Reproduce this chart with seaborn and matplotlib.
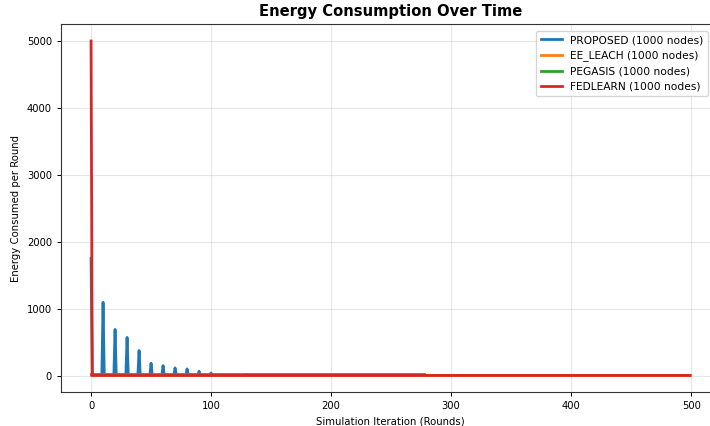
import numpy as np
import pandas as pd
import matplotlib
matplotlib.use('Agg')
import matplotlib.pyplot as plt
import seaborn as sns

# rounds simulated
n_rounds = 500

# PROPOSED: periodic spikes (re-clustering rounds), near zero otherwise
spike_rounds = [0, 10, 20, 30, 40, 50, 60, 70, 80, 90, 100, 110, 120, 130]
spike_values = [1750, 1095, 690, 570, 375, 185, 150, 115, 100, 65, 40, 12, 8, 15]
proposed_base = 2

# EE_LEACH and PEGASIS stay low the whole time
ee_leach_base = 6
pegasis_base = 18
pegasis_last_round = 277

# FEDLEARN: big first round, then near zero
fedlearn_first = 5000
fedlearn_base = 3

proposed = np.full(n_rounds, proposed_base, dtype=float)
proposed[spike_rounds] = spike_values
ee_leach = np.full(n_rounds, ee_leach_base, dtype=float)
pegasis = np.full(pegasis_last_round + 1, pegasis_base, dtype=float)
fedlearn = np.full(n_rounds, fedlearn_base, dtype=float)
fedlearn[0] = fedlearn_first

series = {
    'PROPOSED (1000 nodes)': proposed,
    'EE_LEACH (1000 nodes)': ee_leach,
    'PEGASIS (1000 nodes)': pegasis,
    'FEDLEARN (1000 nodes)': fedlearn,
}
colors = ['#1f77b4', '#ff7f0e', '#2ca02c', '#d62728']

fig = plt.figure(figsize=(7.1, 4.26), dpi=100)
ax = fig.add_axes([0.086, 0.079, 0.928, 0.864])

for (name, vals), c in zip(series.items(), colors):
    df = pd.DataFrame({'round': np.arange(len(vals)), 'energy': vals})
    sns.lineplot(data=df, x='round', y='energy', ax=ax, color=c, linewidth=2, label=name)

ax.set_xlim(-25, 524)
ax.set_ylim(-250, 5250)
ax.set_title('Energy Consumption Over Time', fontsize=10.6, fontweight='bold')
ax.set_xlabel('Simulation Iteration (Rounds)', fontsize=7.3)
ax.set_ylabel('Energy Consumed per Round', fontsize=7.3)
ax.tick_params(labelsize=7.2, width=0.7, length=3)
for s in ax.spines.values():
    s.set_linewidth(0.8)
    s.set_color('#333333')
ax.grid(True, alpha=0.3)
ax.legend(loc='upper right', fontsize=7.7, bbox_to_anchor=(0.99, 0.997))

fig.savefig('out.png', dpi=100)
